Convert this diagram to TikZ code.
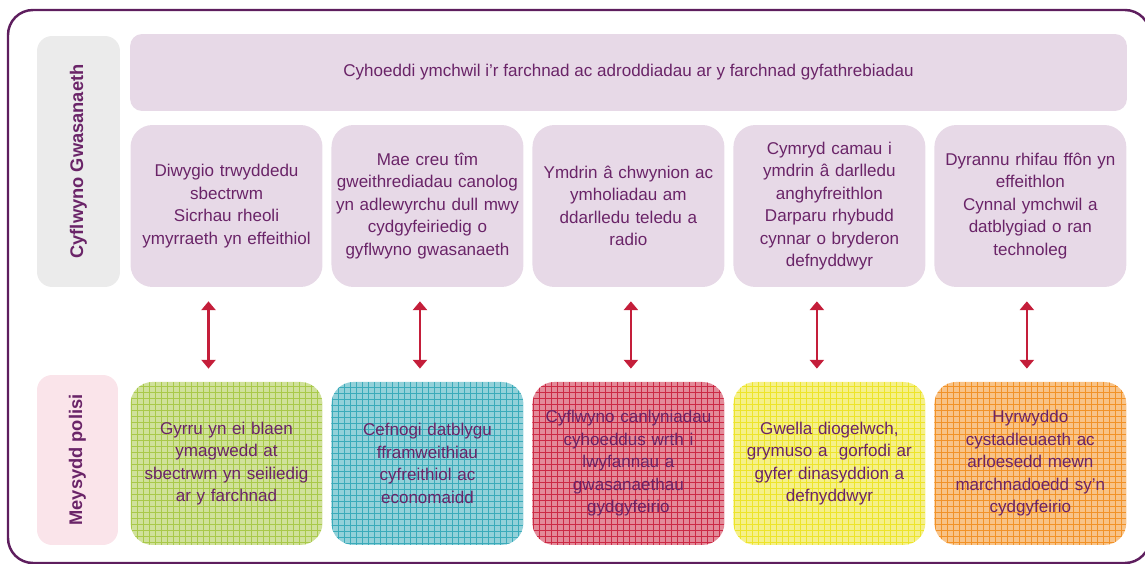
\documentclass[tikz,border=0pt]{standalone}
\usepackage{fontspec}
\setmainfont{Liberation Sans}
\usetikzlibrary{arrows.meta,positioning}
\definecolor{framepurple}{HTML}{5E1E5E}
\definecolor{textpurple}{HTML}{6A2468}
\definecolor{lilac}{HTML}{E7D9E7}
\definecolor{lightgrey}{HTML}{EBEBEB}
\definecolor{lightpink}{HTML}{FAE4EA}
\definecolor{arrowred}{HTML}{C41E3A}
\definecolor{gridgreen}{HTML}{A9C94A}
\definecolor{gridteal}{HTML}{3BABBA}
\definecolor{gridred}{HTML}{CC2A45}
\definecolor{gridyellow}{HTML}{EDE42A}
\definecolor{gridorange}{HTML}{F29227}

\begin{document}
\begin{tikzpicture}[x=0.02cm, y=-0.02cm, node distance=4.02cm, auto,
  font=\fontsize{9.7}{12.8}\selectfont, text=textpurple]
% Define block styles
\tikzstyle{service} = [rectangle, fill=lilac, rounded corners=0.44cm, inner xsep=0pt,
    minimum width=3.84cm, minimum height=3.24cm, text width=3.8cm, align=center]
\tikzset{policy/.style={rectangle, fill=#1!55!white, rounded corners=0.44cm, inner xsep=0pt,
    minimum width=3.84cm, minimum height=3.26cm, text width=3.8cm, align=center,
    path picture={\draw[#1, line width=0.45pt, step=0.12cm]
      (path picture bounding box.south west) grid (path picture bounding box.north east);}}}
\tikzstyle{sidebox} = [rectangle, rounded corners=0.3cm, rotate=90,
    font=\fontsize{10.4}{12}\selectfont\bfseries]
\tikzstyle{line} = [draw=arrowred, line width=1.2pt, shorten <=0.28cm, shorten >=0.26cm,
    {Triangle[width=8pt,length=5pt]}-{Triangle[width=8pt,length=5pt]}]

    \useasboundingbox (0,0) rectangle (1145,564);
    % Outer frame
    \draw [framepurple, line width=1.4pt, rounded corners=0.5cm] (8,10) rectangle (1150,563);

    % Place nodes
    \node [sidebox, fill=lightgrey, minimum width=5.02cm, minimum height=1.66cm] (svc) at (78.5,161.5) {Cyflwyno Gwasanaeth};
    \node [sidebox, fill=lightpink, minimum width=3.4cm, minimum height=1.62cm] (pol) at (77.5,460) {Meysydd polisi};
    \node [rectangle, fill=lilac, rounded corners=0.24cm, minimum width=19.94cm, minimum height=1.54cm] (research) at (628.5,72.5)
        {Cyhoeddi ymchwil i’r farchnad ac adroddiadau ar y farchnad gyfathrebiadau};

    \node [service] (s1) at (226.5,206) {Diwygio trwyddedu\\ sbectrwm\\ Sicrhau rheoli\\ ymyrraeth yn effeithiol};
    \node [service, right of=s1] (s2) {Mae creu tîm\\ gweithrediadau canolog\\ yn adlewyrchu dull mwy\\ cydgyfeiriedig o\\ gyflwyno gwasanaeth};
    \node [service, right of=s2] (s3) {Ymdrin â chwynion ac\\ ymholiadau am\\ ddarlledu teledu a\\ radio};
    \node [service, right of=s3] (s4) {Cymryd camau i\\ ymdrin â darlledu\\ anghyfreithlon\\ Darparu rhybudd\\ cynnar o bryderon\\ defnyddwyr};
    \node [service, right of=s4] (s5) {Dyrannu rhifau ffôn yn\\ effeithlon\\ Cynnal ymchwil a\\ datblygiad o ran\\ technoleg};

    \node [policy=gridgreen, node distance=5.15cm, below of=s1] (p1) {Gyrru yn ei blaen\\ ymagwedd at\\ sbectrwm yn seiliedig\\ ar y farchnad};
    \node [policy=gridteal, right of=p1] (p2) {Cefnogi datblygu\\ fframweithiau\\ cyfreithiol ac\\ economaidd};
    \node [policy=gridred, right of=p2] (p3) {Cyflwyno canlyniadau\\ cyhoeddus wrth i\\ lwyfannau a\\ gwasanaethau\\ gydgyfeirio};
    \node [policy=gridyellow, right of=p3] (p4) {Gwella diogelwch,\\ grymuso a\ \ gorfodi ar\\ gyfer dinasyddion a\\ defnyddwyr};
    \node [policy=gridorange, right of=p4] (p5) {Hyrwyddo\\ cystadleuaeth ac\\ arloesedd mewn\\ marchnadoedd sy’n\\ cydgyfeirio};

    % Draw edges
    \path [line] ([xshift=-0.36cm]s1.south) -- ([xshift=-0.36cm]p1.north);
    \path [line] ([xshift=-0.15cm]s2.south) -- ([xshift=-0.15cm]p2.north);
    \path [line] ([xshift=0.05cm]s3.south) -- ([xshift=0.05cm]p3.north);
    \path [line] ([xshift=-0.25cm]s4.south) -- ([xshift=-0.25cm]p4.north);
    \path [line] ([xshift=-0.07cm]s5.south) -- ([xshift=-0.07cm]p5.north);
\end{tikzpicture}
\end{document}
